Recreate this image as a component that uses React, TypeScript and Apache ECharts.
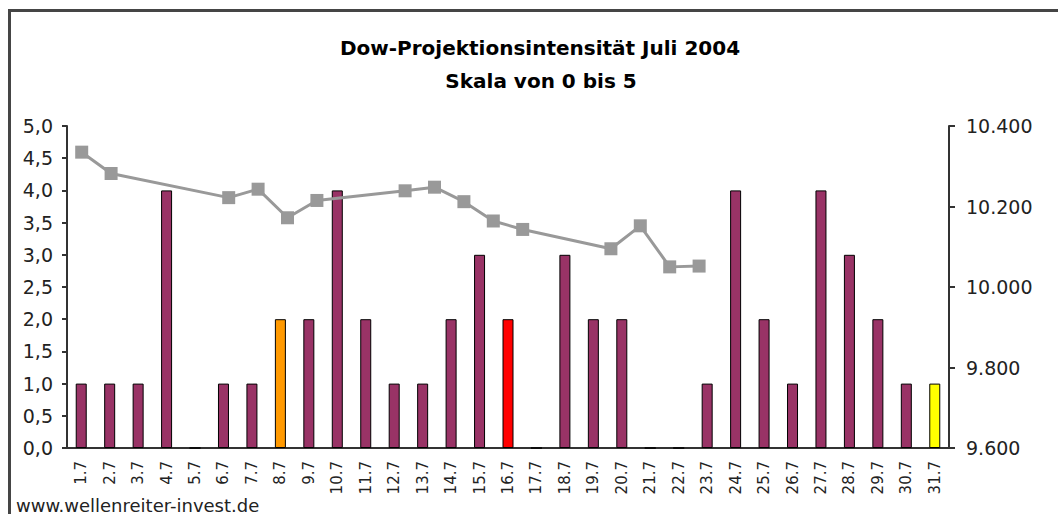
import React, { useEffect, useRef } from "react";
import * as echarts from "echarts";

const days = [
  "1.7", "2.7", "3.7", "4.7", "5.7", "6.7", "7.7", "8.7", "9.7", "10.7",
  "11.7", "12.7", "13.7", "14.7", "15.7", "16.7", "17.7", "18.7", "19.7", "20.7",
  "21.7", "22.7", "23.7", "24.7", "25.7", "26.7", "27.7", "28.7", "29.7", "30.7", "31.7",
];
const intensity = [1, 1, 1, 4, 0, 1, 1, 2, 2, 4, 2, 1, 1, 2, 3, 2, 0, 3, 2, 2, 0, 0, 1, 4, 2, 1, 4, 3, 2, 1, 1];
const highlightDays = ["8.7", "16.7", "31.7"];
const highlightColors = ["#FF9900", "#FF0000", "#FFFF00"];
const barColor = "#993366";

// The Dow line sits on its own category axis of 30 slots (1..30 July)
const dowSlots = [
  "1", "2", "3", "4", "5", "6", "7", "8", "9", "10", "11", "12", "13", "14", "15",
  "16", "17", "18", "19", "20", "21", "22", "23", "24", "25", "26", "27", "28", "29", "30",
];
const dowClose: (number | null)[] = [
  10335, 10282, null, null, null, 10222, 10243, 10172, 10215, null,
  null, 10239, 10248, 10212, 10164, 10143, null, null, 10095, 10152,
  10050, 10052, null, null, null, null, null, null, null, null,
];

const leftTicks = { min: 0, max: 5, interval: 0.5 };
const rightTicks = { min: 9600, max: 10400, interval: 200 };

const titleLines = ["Dow-Projektionsintensität Juli 2004", "Skala von 0 bis 5"];
const footer = "www.wellenreiter-invest.de";

export default function App() {
  const ref = useRef<HTMLDivElement>(null);
  useEffect(() => {
    document.body.style.margin = "0";
    const chart = echarts.init(ref.current!, null, { renderer: "svg" });
    const font = "DejaVu Sans";
    chart.setOption({
      animation: false,
      backgroundColor: "#ffffff",
      grid: { left: 67, right: 109, top: 126, bottom: 66, containLabel: false },
      graphic: [
        {
          type: "rect",
          shape: { x: 9.5, y: 10.5, width: 1200, height: 700 },
          style: { fill: "none", stroke: "#454545", lineWidth: 3 },
          silent: true,
        },
        {
          type: "text",
          x: 540,
          y: 48,
          style: {
            text: titleLines[0],
            fontFamily: font,
            fontWeight: "bold",
            fontSize: 20,
            fill: "#000",
            textAlign: "center",
            textVerticalAlign: "middle",
          },
        },
        {
          type: "text",
          x: 541,
          y: 81,
          style: {
            text: titleLines[1],
            fontFamily: font,
            fontWeight: "bold",
            fontSize: 20,
            fill: "#000",
            textAlign: "center",
            textVerticalAlign: "middle",
          },
        },
        {
          type: "text",
          x: 16,
          y: 514,
          style: {
            text: footer,
            fontFamily: font,
            fontSize: 18,
            fill: "#222",
            textAlign: "left",
            textVerticalAlign: "bottom",
          },
        },
      ],
      xAxis: [
        {
          type: "category",
          data: days,
          boundaryGap: true,
          axisLine: { lineStyle: { color: "#333", width: 2 } },
          axisTick: { show: false },
          axisLabel: {
            rotate: 90,
            margin: 13,
            interval: 0,
            fontFamily: font,
            fontSize: 15,
            color: "#222",
          },
        },
        {
          type: "category",
          data: dowSlots,
          boundaryGap: true,
          show: false,
        },
      ],
      yAxis: [
        {
          type: "value",
          ...leftTicks,
          position: "left",
          splitLine: { show: false },
          axisLine: { show: true, lineStyle: { color: "#333", width: 2 } },
          axisTick: { show: true, length: 5, lineStyle: { color: "#333", width: 2 } },
          axisLabel: {
            margin: 14,
            fontFamily: font,
            fontSize: 19,
            color: "#222",
            formatter: (v: number) => v.toFixed(1).replace(".", ","),
          },
        },
        {
          type: "value",
          ...rightTicks,
          position: "right",
          splitLine: { show: false },
          axisLine: { show: true, lineStyle: { color: "#333", width: 2 } },
          axisTick: { show: true, length: 6, lineStyle: { color: "#333", width: 2 } },
          axisLabel: {
            margin: 17,
            fontFamily: font,
            fontSize: 19,
            color: "#222",
            formatter: (v: number) => {
              const s = String(Math.round(v));
              return s.replace(/\B(?=(\d{3})+(?!\d))/g, ".");
            },
          },
        },
      ],
      series: [
        {
          type: "bar",
          xAxisIndex: 0,
          yAxisIndex: 0,
          barWidth: 11,
          data: intensity.map((v, i) => {
            const h = highlightDays.indexOf(days[i]);
            return {
              value: v,
              itemStyle: {
                color: h >= 0 ? highlightColors[h] : barColor,
                borderColor: "#000",
                borderWidth: 1,
              },
            };
          }),
        },
        {
          type: "line",
          xAxisIndex: 1,
          yAxisIndex: 1,
          data: dowClose,
          connectNulls: true,
          symbol: "rect",
          symbolSize: 13,
          lineStyle: { color: "#999999", width: 3 },
          itemStyle: { color: "#999999" },
          z: 5,
        },
      ],
    });
    return () => chart.dispose();
  }, []);
  return <div ref={ref} style={{ width: 1058, height: 514 }} />;
}
